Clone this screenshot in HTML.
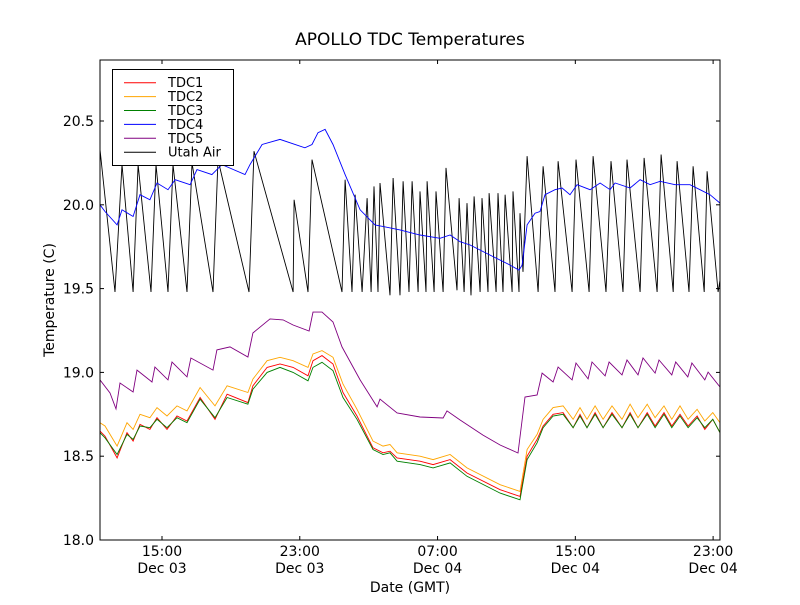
<!DOCTYPE html>
<html><head><meta charset="utf-8"><style>
body{margin:0;background:#fff}
svg text{font-family:"DejaVu Sans","Liberation Sans",sans-serif}
</style></head><body>
<svg id="chart" width="800" height="600" xmlns="http://www.w3.org/2000/svg">
<rect width="800" height="600" fill="#fff"/>
<text x="410" y="45" font-size="17" text-anchor="middle">APOLLO TDC Temperatures</text>
<g id="series"></g>
<g id="axes"></g>
<text x="410" y="592" font-size="14" text-anchor="middle">Date (GMT)</text>
<text x="54" y="300" font-size="14" text-anchor="middle" transform="rotate(-90 54 300)">Temperature (C)</text>
<g id="legend"></g>
</svg>
<script>
const yTicks=[18.0,18.5,19.0,19.5,20.0,20.5];
const xTicks=[15,23,31,39,47];
const xTickTimes=["15:00","23:00","07:00","15:00","23:00"];
const xTickDates=["Dec 03","Dec 03","Dec 04","Dec 04","Dec 04"];
const tdcTimes=[11.40,11.69,12.39,12.97,13.32,13.72,14.30,14.71,15.29,15.87,16.45,17.21,18.08,18.78,19.99,20.28,21.10,21.85,22.61,23.48,23.77,24.29,24.93,25.51,26.32,27.25,27.83,28.24,28.65,29.98,30.74,31.73,32.71,34.63,35.79,36.20,36.78,37.13,37.71,38.29,38.87,39.27,39.68,40.15,40.61,41.13,41.71,42.18,42.64,43.17,43.63,44.15,44.60,45.08,45.55,46.07,46.52,46.98,47.40];
const tdc1=[18.65,18.62,18.49,18.64,18.59,18.69,18.66,18.73,18.66,18.74,18.71,18.85,18.72,18.87,18.82,18.92,19.03,19.05,19.03,18.98,19.07,19.10,19.05,18.88,18.74,18.55,18.52,18.53,18.49,18.47,18.45,18.48,18.40,18.30,18.26,18.50,18.60,18.68,18.75,18.76,18.67,18.75,18.67,18.76,18.67,18.76,18.67,18.76,18.67,18.76,18.68,18.76,18.68,18.75,18.68,18.74,18.66,18.72,18.64];
const tdc2=[18.70,18.68,18.56,18.70,18.66,18.75,18.73,18.79,18.74,18.80,18.77,18.91,18.80,18.92,18.88,18.96,19.07,19.09,19.07,19.03,19.11,19.13,19.09,18.93,18.78,18.59,18.56,18.57,18.52,18.50,18.48,18.51,18.43,18.33,18.29,18.54,18.63,18.72,18.79,18.80,18.72,18.79,18.72,18.80,18.72,18.80,18.72,18.81,18.73,18.81,18.73,18.80,18.72,18.80,18.72,18.78,18.71,18.76,18.70];
const tdc3=[18.64,18.61,18.51,18.63,18.60,18.68,18.67,18.72,18.67,18.73,18.70,18.84,18.73,18.85,18.81,18.90,19.00,19.03,19.00,18.95,19.03,19.06,19.01,18.85,18.72,18.54,18.51,18.52,18.47,18.45,18.43,18.46,18.38,18.28,18.24,18.48,18.58,18.67,18.74,18.75,18.67,18.74,18.67,18.75,18.67,18.75,18.67,18.75,18.67,18.75,18.67,18.75,18.67,18.74,18.67,18.73,18.67,18.72,18.64];
const tdc4Times=[11.40,11.69,12.39,12.68,13.32,13.72,14.30,14.71,15.35,15.76,16.63,17.03,17.90,18.48,19.82,20.11,20.81,21.85,23.30,23.71,24.06,24.47,24.93,25.63,26.50,27.37,28.82,29.98,31.14,31.73,32.31,32.89,34.05,35.21,35.73,35.91,36.20,36.66,36.95,37.24,37.82,38.23,38.69,39.10,39.86,40.44,41.02,41.31,42.18,42.76,43.34,43.92,44.79,45.66,46.24,46.82,47.40];
const tdc4=[20.00,19.96,19.88,19.97,19.93,20.06,20.03,20.13,20.09,20.15,20.12,20.21,20.18,20.24,20.18,20.24,20.36,20.39,20.34,20.36,20.43,20.45,20.36,20.18,19.97,19.88,19.85,19.82,19.80,19.82,19.78,19.76,19.70,19.64,19.61,19.64,19.88,19.95,19.96,20.06,20.09,20.10,20.06,20.12,20.09,20.13,20.09,20.13,20.10,20.15,20.12,20.14,20.12,20.12,20.09,20.06,20.01];
const tdc5Times=[11.40,11.98,12.33,12.56,13.32,13.55,14.42,14.59,15.35,15.58,16.45,16.68,17.96,18.19,18.95,19.99,20.28,21.27,22.03,22.61,23.54,23.77,24.29,24.93,25.45,26.50,27.49,27.66,28.65,29.98,31.32,31.55,32.31,33.64,34.63,35.67,36.08,36.78,37.07,37.71,38.00,38.81,39.04,39.74,39.97,40.73,40.96,41.71,42.00,42.64,42.93,43.63,43.86,44.60,44.83,45.53,45.77,46.52,46.71,47.40];
const tdc5=[18.955,18.877,18.782,18.937,18.883,19.014,18.943,19.032,18.955,19.062,18.973,19.086,19.014,19.134,19.152,19.092,19.235,19.319,19.313,19.283,19.247,19.360,19.360,19.301,19.152,18.955,18.794,18.841,18.758,18.734,18.728,18.770,18.716,18.626,18.567,18.519,18.853,18.865,18.996,18.943,19.032,18.955,19.056,18.961,19.062,18.979,19.062,18.985,19.074,18.985,19.086,18.996,19.074,18.985,19.062,18.973,19.056,18.955,19.002,18.913];
const airTimes=[11.40,12.27,12.68,13.32,13.61,14.36,14.65,15.35,15.64,16.45,16.74,17.96,18.25,20.05,20.34,22.61,22.67,23.48,23.71,25.45,25.63,26.03,26.21,26.62,26.91,27.14,27.31,27.54,27.66,28.24,28.42,28.82,29.00,29.34,29.52,29.87,29.98,30.33,30.39,30.80,30.91,31.32,31.49,32.13,32.25,32.54,32.71,32.94,33.12,33.47,33.58,33.93,33.99,34.40,34.51,34.80,34.92,35.33,35.38,35.73,35.79,35.96,36.20,36.84,37.13,37.82,38.00,38.81,39.04,39.80,40.03,40.78,41.07,41.77,42.00,42.76,42.99,43.75,43.98,44.68,44.91,45.60,45.84,46.48,46.65,47.29,47.40];
const airTemps=[20.33,19.48,20.24,19.48,20.24,19.48,20.24,19.48,20.24,19.48,20.25,19.48,20.27,19.48,20.32,19.48,20.03,19.48,20.27,19.48,20.15,19.48,20.06,19.48,20.04,19.48,20.11,19.48,20.13,19.46,20.16,19.46,20.14,19.48,20.14,19.48,20.08,19.48,20.14,19.48,20.08,19.48,20.22,19.49,20.04,19.48,20.01,19.46,20.05,19.48,20.04,19.48,20.07,19.48,20.07,19.48,20.06,19.48,20.08,19.48,19.95,19.60,20.29,19.48,20.23,19.48,20.26,19.48,20.27,19.48,20.29,19.48,20.26,19.48,20.27,19.48,20.28,19.48,20.30,19.48,20.26,19.48,20.23,19.48,20.20,19.48,19.55];

const L=100,R=720,T=60,B=540,xMin=11.4,xMax=47.4,yMin=18.0,yMax=20.864;
function xs(h){return L+(h-xMin)/(xMax-xMin)*(R-L);}
function ys(v){return B-(v-yMin)/(yMax-yMin)*(B-T);}
const NS="http://www.w3.org/2000/svg";
const sg=document.getElementById('series');
function line(times,vals,color,name){
  const p=document.createElementNS(NS,'polyline');
  p.setAttribute('points',times.map((t,i)=>xs(t).toFixed(1)+','+ys(vals[i]).toFixed(1)).join(' '));
  p.setAttribute('fill','none');p.setAttribute('stroke',color);p.setAttribute('stroke-width','0.9');
  
  
  sg.appendChild(p);
}
line(airTimes,airTemps,'#000','utah-air-line');
line(tdcTimes,tdc2,'#ffa500','tdc2-line');
line(tdcTimes,tdc1,'#ff0000','tdc1-line');
line(tdcTimes,tdc3,'#008000','tdc3-line');
line(tdc4Times,tdc4,'#0000ff','tdc4-line');
line(tdc5Times,tdc5,'#800080','tdc5-line');

const ag=document.getElementById('axes');
let h='<rect x="100" y="60" width="620" height="480" fill="none" stroke="#000" stroke-width="1"/>';
yTicks.forEach(v=>{const y=ys(v);
 h+=`<line x1="100" x2="104" y1="${y}" y2="${y}" stroke="#000"/><line x1="716" x2="720" y1="${y}" y2="${y}" stroke="#000"/>`;
 h+=`<text x="94" y="${y+5}" font-size="14" text-anchor="end">${v.toFixed(1)}</text>`;});
xTicks.forEach((t,i)=>{const x=xs(t);
 h+=`<line x1="${x}" x2="${x}" y1="536" y2="540" stroke="#000"/><line x1="${x}" x2="${x}" y1="60" y2="64" stroke="#000"/>`;
 h+=`<text x="${x}" y="556" font-size="14" text-anchor="middle">${xTickTimes[i]}</text>`;
 h+=`<text x="${x}" y="573" font-size="14" text-anchor="middle">${xTickDates[i]}</text>`;});
ag.innerHTML=h;

const lg=document.getElementById('legend');
const names=["TDC1","TDC2","TDC3","TDC4","TDC5","Utah Air"];
const cols=["#ff0000","#ffa500","#008000","#0000ff","#800080","#000"];
let g='<rect x="112.5" y="69.5" width="121" height="96" fill="#fff" stroke="#000"/>';
names.forEach((n,i)=>{const y=82.7+i*13.9;
 g+=`<g><line x1="124" x2="156" y1="${y}" y2="${y}" stroke="${cols[i]}" stroke-width="1"/><text x="168" y="${y+4.5}" font-size="13">${n}</text></g>`;});
lg.innerHTML=g;
</script>
</body></html>
